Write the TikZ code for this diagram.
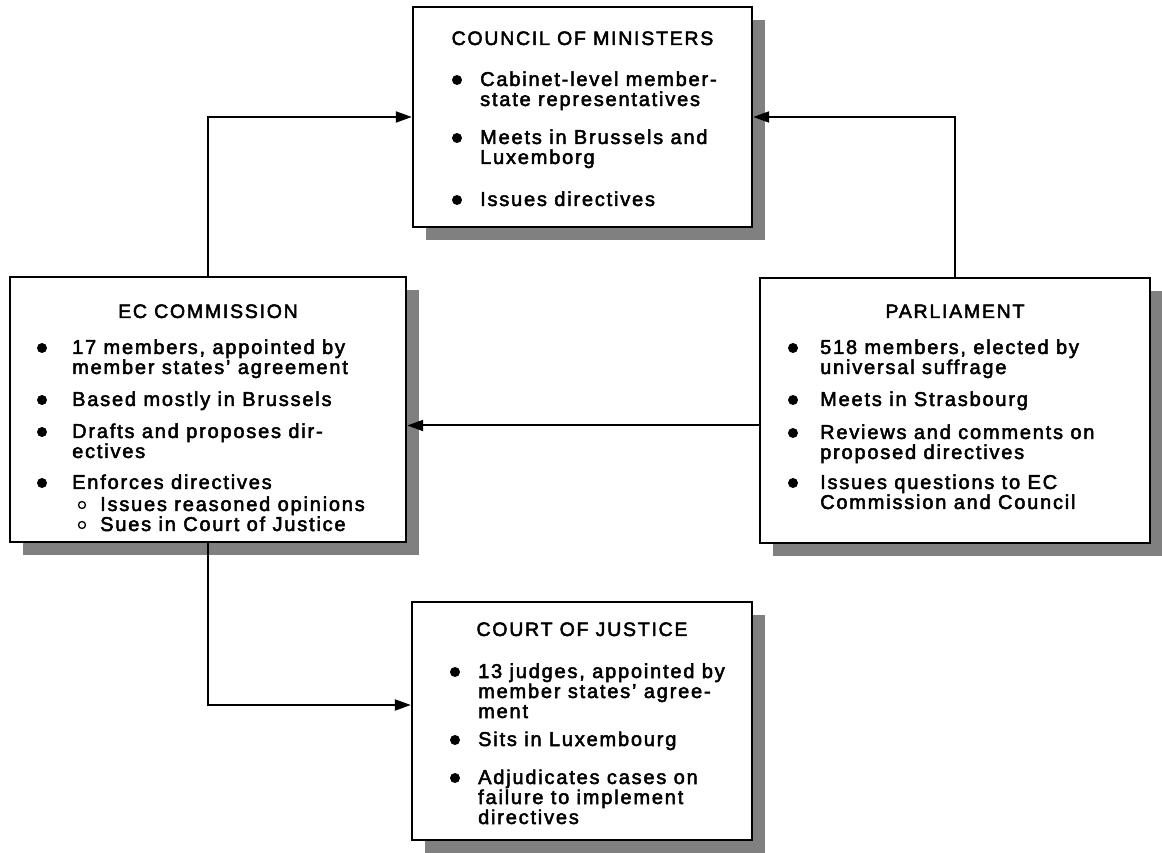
\documentclass[tikz,border=0pt]{standalone}
\usepackage{fontspec}
\setmainfont{Liberation Sans}[LetterSpace=9,FakeBold=2.5]
\usetikzlibrary{arrows.meta,shadows}
\tikzset{
  box/.style={draw=black, line width=2.4pt, fill=white, inner sep=0pt,
    drop shadow={shadow xshift=13pt, shadow yshift=-13pt, fill=black!50, opacity=1}},
  ttl/.style={anchor=base, inner sep=0pt, font=\fontsize{19.5}{20}\selectfont},
  item/.style={anchor=base west, inner sep=0pt, align=left, font=\fontsize{20}{20}\selectfont},
  conn/.style={line width=2pt, -{Triangle[length=16pt,width=11pt]}},
  subdot/.style={line width=1.3pt},
}
\begin{document}
\begin{tikzpicture}[x=1pt,y=1pt]
\useasboundingbox (0,0) rectangle (1162,852);
% boxes
\node[box, minimum width=339pt, minimum height=220pt] (council) at (582.5,735) {};
\node[box, minimum width=396pt, minimum height=265pt] (ec) at (208,442.5) {};
\node[box, minimum width=390pt, minimum height=265pt] (parl) at (955,441.5) {};
\node[box, minimum width=340pt, minimum height=238pt] (court) at (582,131) {};
% connectors
\draw[conn] (ec.north) |- (council.west);
\draw[conn] (parl.north) |- (council.east);
\coordinate (pl) at ([yshift=-15pt]parl.west);
\draw[conn] (pl) -- (pl -| ec.east);
\draw[conn] (ec.south) |- ([yshift=16pt]court.west);
% council text
\node[ttl] (t1) at (582.5,807) {COUNCIL OF MINISTERS};
\fill (457,772) circle (5pt);
\node[item] (c1) at (480,746) {Cabinet-level member-\\state representatives};
\fill (457,714) circle (5pt);
\node[item] (c2) at (480,688) {Meets in Brussels and\\Luxemborg};
\fill (457,652) circle (5pt);
\node[item] (c3) at (480,646) {Issues directives};
% EC text
\node[ttl] (t2) at (208,534) {EC COMMISSION};
\fill (42,504) circle (5pt);
\node[item] (e1) at (72,478) {17 members, appointed by\\member states' agreement};
\fill (42,452) circle (5pt);
\node[item] (e2) at (72,446) {Based mostly in Brussels};
\fill (42,420) circle (5pt);
\node[item] (e3) at (72,394) {Drafts and proposes dir-\\ectives};
\fill (42,369) circle (5pt);
\node[item] (e4) at (72,363) {Enforces directives};
\draw[subdot] (82,347) circle (3.5pt);
\node[item] (e5) at (100,341) {Issues reasoned opinions};
\draw[subdot] (82,327) circle (3.5pt);
\node[item] (e6) at (100,321) {Sues in Court of Justice};
% Parliament text
\node[ttl] (t3) at (955,534) {PARLIAMENT};
\fill (793,504) circle (5pt);
\node[item] (p1) at (820,478) {518 members, elected by\\universal suffrage};
\fill (793,452) circle (5pt);
\node[item] (p2) at (820,446) {Meets in Strasbourg};
\fill (793,419) circle (5pt);
\node[item] (p3) at (820,393) {Reviews and comments on\\proposed directives};
\fill (793,369) circle (5pt);
\node[item] (p4) at (820,343) {Issues questions to EC\\Commission and Council};
% Court text
\node[ttl] (t4) at (582,216) {COURT OF JUSTICE};
\fill (455,180) circle (5pt);
\node[item] (j1) at (478,134) {13 judges, appointed by\\member states' agree-\\ment};
\fill (455,112) circle (5pt);
\node[item] (j2) at (478,106) {Sits in Luxembourg};
\fill (455,74) circle (5pt);
\node[item] (j3) at (478,28) {Adjudicates cases on\\failure to implement\\directives};
\end{tikzpicture}
\end{document}
